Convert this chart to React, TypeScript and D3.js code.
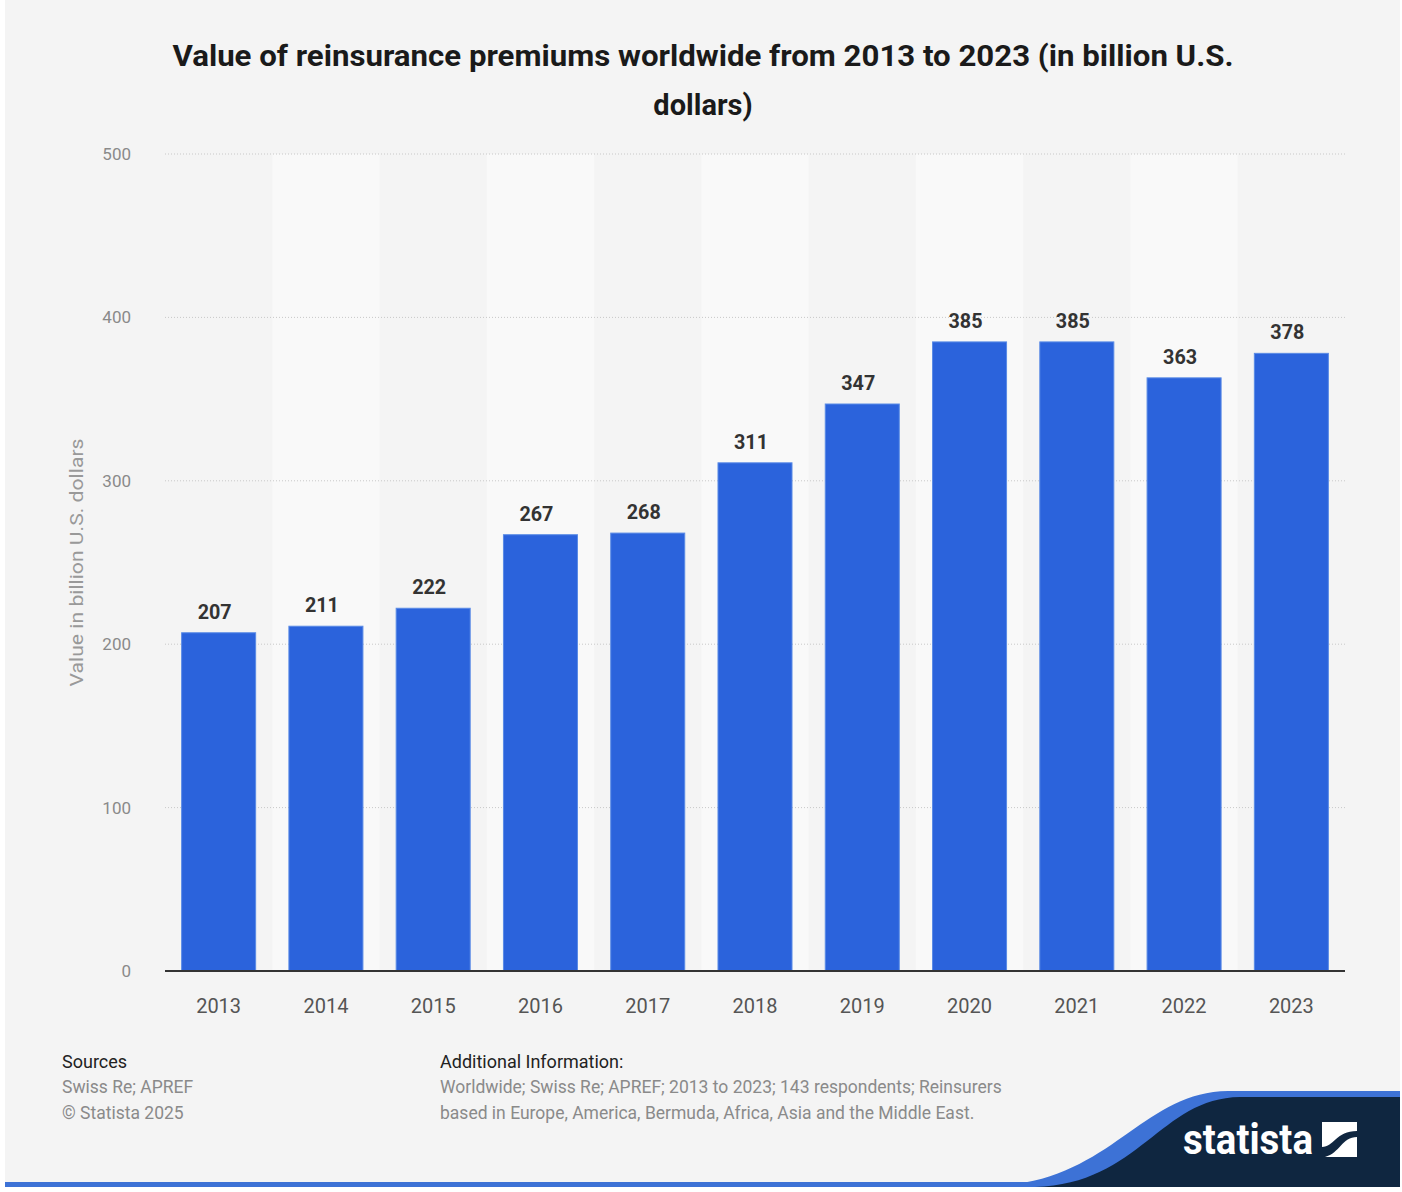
import * as d3 from 'd3';

const years = ['2013', '2014', '2015', '2016', '2017', '2018', '2019', '2020', '2021', '2022', '2023'];
const premiums = [207, 211, 222, 267, 268, 311, 347, 385, 385, 363, 378];
const yTicks = [0, 100, 200, 300, 400, 500];

const titleLines = [
  'Value of reinsurance premiums worldwide from 2013 to 2023 (in billion U.S.',
  'dollars)',
];
const sourceLines = ['Swiss Re; APREF', '© Statista 2025'];
const infoLines = [
  'Worldwide; Swiss Re; APREF; 2013 to 2023; 143 respondents; Reinsurers',
  'based in Europe, America, Bermuda, Africa, Asia and the Middle East.',
];

export default function App() {
  const width = 1402;
  const height = 1192;
  const margin = { top: 154, right: 57, bottom: 221, left: 165 };
  const font = 'Roboto, "Liberation Sans", Arial, sans-serif';

  const x = d3
    .scaleBand<string>()
    .domain(years)
    .range([margin.left, width - margin.right])
    .paddingInner(0.31)
    .paddingOuter(0.155);

  const y = d3
    .scaleLinear()
    .domain([0, 500])
    .range([height - margin.bottom, margin.top]);

  const step = x.step();
  const baseY = y(0);

  return (
    <svg
      width={width}
      height={height}
      viewBox={`0 0 ${width} ${height}`}
      style={{ position: 'absolute', left: 0, top: 0, fontFamily: font }}
    >
      <rect x={0} y={0} width={width} height={height} fill="#ffffff" />
      <rect x={5} y={0} width={1395} height={1186} fill="#f4f4f4" />

      {/* alternating column bands */}
      {years.map((yr, i) =>
        i % 2 === 1 ? (
          <rect
            key={`band-${yr}`}
            x={(x(yr) ?? 0) - (step - x.bandwidth()) / 2}
            y={y(500)}
            width={step}
            height={baseY - y(500)}
            fill="#f9f9f9"
          />
        ) : null,
      )}

      {titleLines.map((t, i) => (
        <text
          key={t}
          x={703}
          y={66 + i * 49}
          textAnchor="middle"
          fontSize={29}
          fontWeight="bold"
          fill="#1a1a1a"
          textLength={i === 0 ? 1061 : undefined}
          lengthAdjust="spacingAndGlyphs"
        >
          {t}
        </text>
      ))}

      {/* grid */}
      {yTicks.map((t) => (
        <g key={`grid-${t}`}>
          {t > 0 && (
            <line
              x1={margin.left}
              x2={width - margin.right}
              y1={y(t)}
              y2={y(t)}
              stroke="#c8c8c8"
              strokeWidth={1}
              strokeDasharray="1 2"
            />
          )}
          <text x={131} y={y(t) + 6} textAnchor="end" fontSize={17} fill="#8a8a8a">
            {t}
          </text>
        </g>
      ))}

      <text
        transform={`translate(83,${(y(0) + y(500)) / 2}) rotate(-90)`}
        textAnchor="middle"
        fontSize={18}
        fill="#999999"
        textLength={248}
        lengthAdjust="spacingAndGlyphs"
      >
        Value in billion U.S. dollars
      </text>

      {years.map((yr, i) => {
        const bx = x(yr) ?? 0;
        const top = y(premiums[i]);
        return (
          <g key={yr}>
            <rect
              x={bx}
              y={top}
              width={x.bandwidth()}
              height={baseY - top}
              fill="#2b63dc"
              stroke="#5a8be6"
              strokeWidth={1}
            />
            <text
              x={bx + x.bandwidth() / 2 - 4}
              y={top - 14}
              textAnchor="middle"
              fontSize={21}
              fontWeight="bold"
              fill="#333333"
              textLength={34}
              lengthAdjust="spacingAndGlyphs"
            >
              {premiums[i]}
            </text>
            <text
              x={bx + x.bandwidth() / 2}
              y={baseY + 42}
              textAnchor="middle"
              fontSize={20}
              fill="#555555"
            >
              {yr}
            </text>
          </g>
        );
      })}

      <line
        x1={margin.left}
        x2={width - margin.right}
        y1={baseY}
        y2={baseY}
        stroke="#333333"
        strokeWidth={2}
      />

      {/* footer */}
      <text x={62} y={1068} fontSize={18} fill="#222222">
        Sources
      </text>
      {sourceLines.map((t, i) => (
        <text key={t} x={62} y={1093 + i * 26} fontSize={17.5} fill="#8a8a8a">
          {t}
        </text>
      ))}
      <text x={440} y={1068} fontSize={18} fill="#222222">
        Additional Information:
      </text>
      {infoLines.map((t, i) => (
        <text key={t} x={440} y={1093 + i * 26} fontSize={17.5} fill="#8a8a8a">
          {t}
        </text>
      ))}

      {/* statista logo */}
      <rect x={5} y={1182} width={1395} height={5} fill="#3d72d6" />
      <path
        d="M990,1186 C1110,1184 1140,1092 1228,1091 L1400,1091 L1400,1187 Z"
        fill="#3d72d6"
      />
      <path
        d="M1035,1187 C1140,1184 1160,1098 1240,1097 L1400,1097 L1400,1187 Z"
        fill="#0f2640"
      />
      <text
        x={1183}
        y={1154}
        fontSize={42}
        fontWeight="bold"
        fill="#ffffff"
        textLength={130}
        lengthAdjust="spacingAndGlyphs"
      >
        statista
      </text>
      <rect x={1322} y={1122} width={35} height={35} fill="#ffffff" />
      <path
        d="M1322,1157 L1322,1147 C1334,1147 1336,1131 1357,1131 L1357,1137 C1342,1137 1340,1153 1325,1157 Z"
        fill="#0f2640"
      />
    </svg>
  );
}
